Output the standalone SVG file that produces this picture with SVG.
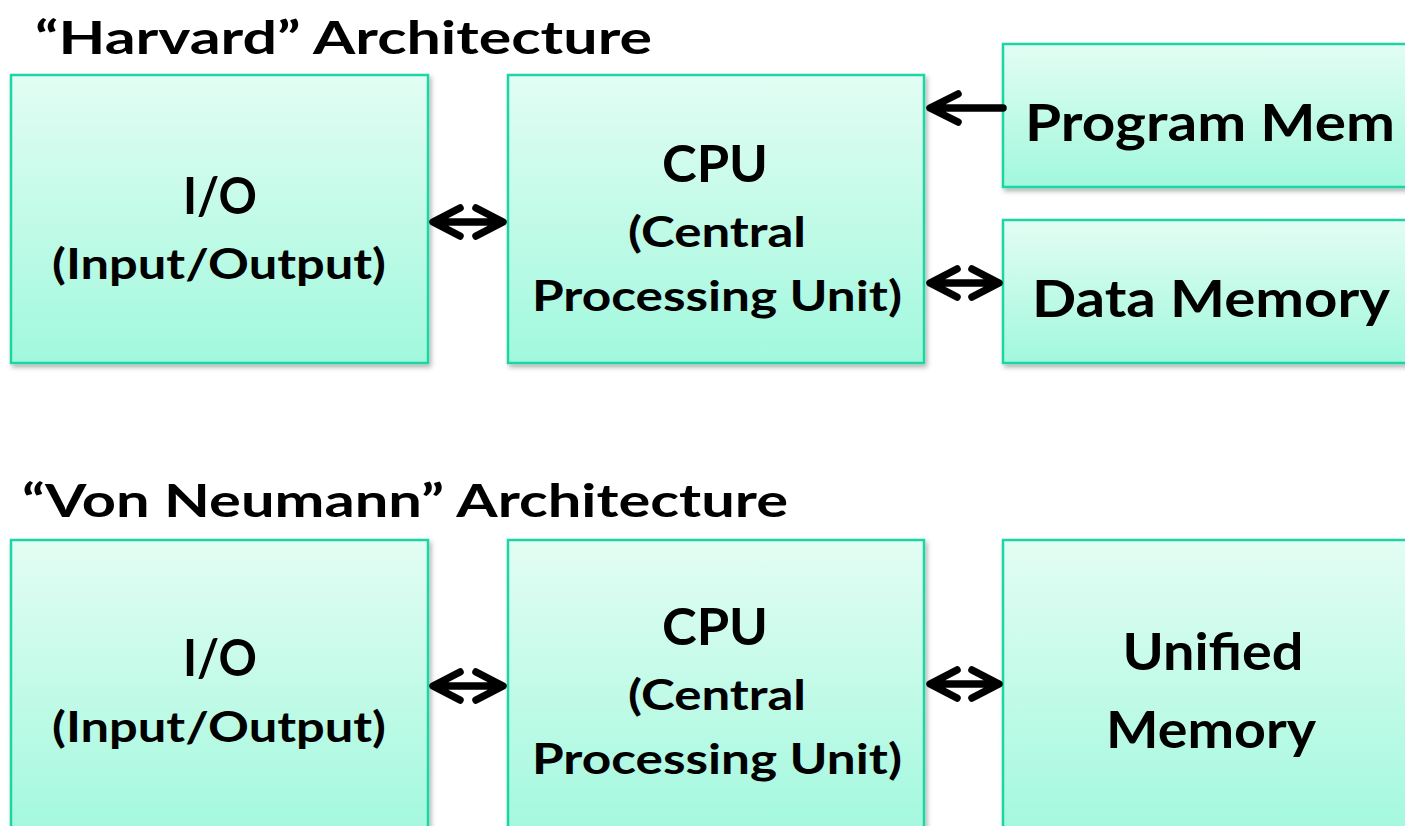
<svg xmlns="http://www.w3.org/2000/svg" width="1405" height="826" viewBox="0 0 1405 826">
<defs>
<linearGradient id="g" x1="0" y1="0" x2="0" y2="1">
<stop offset="0" stop-color="#e3fdf3"/>
<stop offset="1" stop-color="#a1f8dd"/>
</linearGradient>
<filter id="sh" x="-5%" y="-5%" width="115%" height="115%">
<feDropShadow dx="2" dy="3" stdDeviation="2.5" flood-color="#000" flood-opacity="0.3"/>
</filter>
</defs>
<style>
.box{fill:url(#g);stroke:#1dd5a5;stroke-width:2.5;filter:url(#sh)}
text{font-family:"Lato","Noto Sans","Liberation Sans",sans-serif;font-weight:bold;fill:#000}
.t{font-size:46px}
.big{font-size:52px;text-anchor:middle}
.mid{font-size:42px;text-anchor:middle}
.mem{font-size:52px}
.conn path{fill:none;stroke:#000;stroke-width:7.5;stroke-linecap:round;stroke-linejoin:round}
</style>
<text class="t" x="35" y="54" textLength="617" lengthAdjust="spacingAndGlyphs">“Harvard” Architecture</text>
<text class="t" x="22" y="517" textLength="766" lengthAdjust="spacingAndGlyphs">“Von Neumann” Architecture</text>

<g id="h-io">
<rect class="box" x="11" y="75" width="417" height="288"/>
<text class="big" x="220" y="214" textLength="74" lengthAdjust="spacingAndGlyphs">I/O</text>
<text class="mid" x="219" y="279" textLength="334" lengthAdjust="spacingAndGlyphs">(Input/Output)</text>
</g>
<g id="h-cpu">
<rect class="box" x="508" y="75" width="416" height="288"/>
<text class="big" x="715" y="182" textLength="106" lengthAdjust="spacingAndGlyphs">CPU</text>
<text class="mid" x="717" y="247" textLength="178" lengthAdjust="spacingAndGlyphs">(Central</text>
<text class="mid" x="717" y="311" textLength="370" lengthAdjust="spacingAndGlyphs">Processing Unit)</text>
</g>
<g id="h-prog">
<rect class="box" x="1003" y="44" width="420" height="143"/>
<text class="mem" x="1025" y="141" textLength="370" lengthAdjust="spacingAndGlyphs">Program Mem</text>
</g>
<g id="h-data">
<rect class="box" x="1003" y="220" width="420" height="143"/>
<text class="mem" x="1032" y="317" textLength="358" lengthAdjust="spacingAndGlyphs">Data Memory</text>
</g>

<g id="v-io">
<rect class="box" x="11" y="540" width="417" height="300"/>
<text class="big" x="220" y="676" textLength="74" lengthAdjust="spacingAndGlyphs">I/O</text>
<text class="mid" x="219" y="742" textLength="334" lengthAdjust="spacingAndGlyphs">(Input/Output)</text>
</g>
<g id="v-cpu">
<rect class="box" x="508" y="540" width="416" height="300"/>
<text class="big" x="715" y="645" textLength="106" lengthAdjust="spacingAndGlyphs">CPU</text>
<text class="mid" x="717" y="710" textLength="178" lengthAdjust="spacingAndGlyphs">(Central</text>
<text class="mid" x="717" y="774" textLength="370" lengthAdjust="spacingAndGlyphs">Processing Unit)</text>
</g>
<g id="v-mem">
<rect class="box" x="1003" y="540" width="420" height="300"/>
<text class="big" x="1213" y="670" textLength="181" lengthAdjust="spacingAndGlyphs">Unified</text>
<text class="big" x="1211" y="748" textLength="210" lengthAdjust="spacingAndGlyphs">Memory</text>
</g>

<g class="conn" id="connectors">
<path d="M436,222 H500 M460,208 L433,222 L460,236 M476,208 L503,222 L476,236"/>
<path d="M931,108 H1003 M958,94 L930,108 L958,122"/>
<path d="M931,283 H996 M957,269 L930,283 L957,297 M972,269 L999,283 L972,297"/>
<path d="M436,686 H500 M460,672 L433,686 L460,700 M476,672 L503,686 L476,700"/>
<path d="M931,684 H996 M957,670 L930,684 L957,698 M972,670 L999,684 L972,698"/>
</g>
</svg>
